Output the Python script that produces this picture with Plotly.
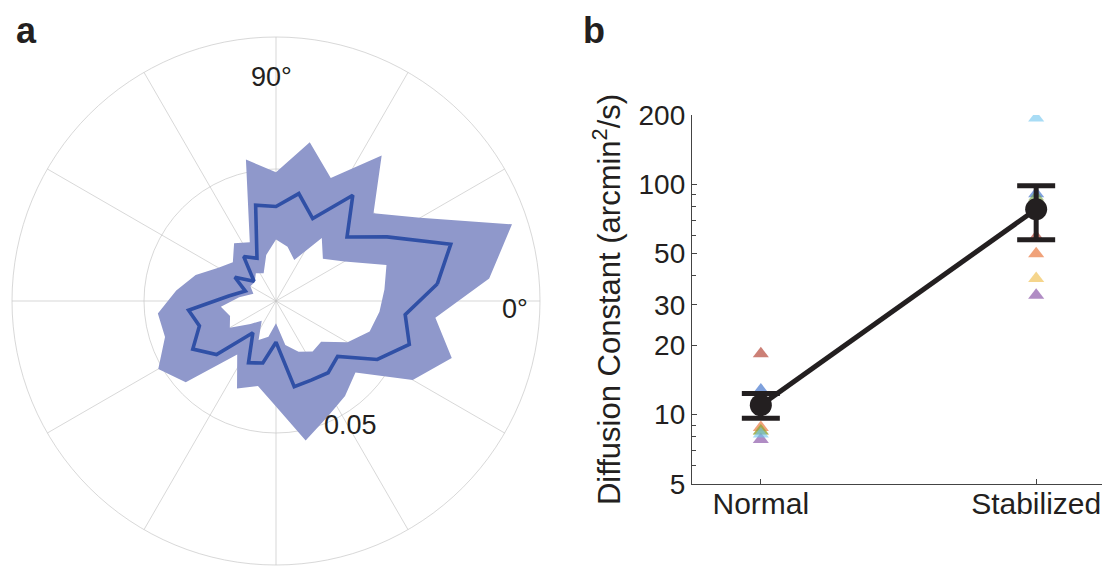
import plotly.graph_objects as go

# ---------------- Panel a: polar data (bins, radius values) ----------------
bin_angles = [6, 18, 30, 42, 54, 66, 78, 90, 102, 114, 126, 138, 150, 162, 174,
              186, 198, 210, 222, 234, 246, 258, 270, 282, 294, 306, 318, 330, 342, 354]
mean_r = [0.0614, 0.0696, 0.0486, 0.0362, 0.0495, 0.0342, 0.0416, 0.0358, 0.0371, 0.0177,
          0.0208, 0.0112, 0.0180, 0.0122, 0.0180, 0.0333, 0.0305, 0.0364, 0.0303, 0.0149,
          0.0256, 0.0240, 0.0156, 0.0332, 0.0328, 0.0336, 0.0314, 0.0443, 0.0531, 0.0492]
upper_r = [0.0812, 0.0940, 0.0630, 0.0497, 0.0681, 0.0510, 0.0615, 0.0488, 0.0548, 0.0244,
           0.0270, 0.0220, 0.0252, 0.0320, 0.0380, 0.0450, 0.0442, 0.0515, 0.0460, 0.0250,
           0.0363, 0.0329, 0.0400, 0.0540, 0.0480, 0.0445, 0.0405, 0.0598, 0.0700, 0.0607]
lower_r = [0.0413, 0.0440, 0.0300, 0.0239, 0.0295, 0.0170, 0.0210, 0.0233, 0.0178, 0.0115,
           0.0130, 0.0108, 0.0112, 0.0090, 0.0140, 0.0210, 0.0183, 0.0202, 0.0130, 0.0092,
           0.0162, 0.0138, 0.0084, 0.0170, 0.0210, 0.0236, 0.0230, 0.0313, 0.0373, 0.0394]
radial_ticks = [0.05, 0.1]

# ---------------- Panel b: diffusion constants ----------------
conditions = ["Normal", "Stabilized"]
cond_pos = [1, 2]
group_mean = [11.0, 78.0]
group_sem = [1.35, 20.5]
subject_colors = ["rgba(40,97,197,0.6)", "rgba(230,100,33,0.6)", "rgba(238,185,63,0.6)",
                  "rgba(123,63,157,0.6)", "rgba(113,160,63,0.6)", "rgba(110,197,238,0.6)",
                  "rgba(170,43,27,0.6)"]
subject_normal = [12.8, 8.8, 8.5, 7.8, 8.5, 8.25, 18.4]
subject_stabilized = [91.0, 50.0, 39.0, 33.0, 88.0, 194.0, 59.0]
y_ticks = [5, 10, 20, 30, 50, 100, 200]
y_minor = [6, 7, 8, 9, 40, 60, 70, 80, 90]

FONT = "Liberation Sans, Arial, Helvetica, sans-serif"
INK = "#231f20"
W, H = 1110, 566
OFF = 8  # page body margin in the viewer


def px_x(x):
    return (x - OFF) / W


def px_y(y):
    return 1 - (y - OFF) / H


fig = go.Figure()

# shaded band (outer loop CCW, inner loop reversed -> ring)
band_theta = bin_angles + [bin_angles[0]] + [bin_angles[0]] + bin_angles[::-1]
band_r = upper_r + [upper_r[0]] + [lower_r[0]] + lower_r[::-1]
fig.add_trace(go.Scatterpolar(
    theta=band_theta, r=band_r, mode="lines", fill="toself",
    fillcolor="rgb(143,152,203)", line=dict(width=0, color="rgba(0,0,0,0)"),
    hoverinfo="skip", showlegend=False, subplot="polar"))

# mean line on an overlaid polar so the grid sits between fill and line
fig.add_trace(go.Scatterpolar(
    theta=bin_angles + [bin_angles[0]], r=mean_r + [mean_r[0]], mode="lines",
    line=dict(color="#3050a6", width=3.6), showlegend=False, subplot="polar2"))

# ---------------- Panel b traces ----------------
for i, col in enumerate(subject_colors):
    fig.add_trace(go.Scatter(
        x=cond_pos, y=[subject_normal[i], subject_stabilized[i]], mode="markers",
        marker=dict(symbol="triangle-up", size=14, color=col, line=dict(width=0)),
        showlegend=False, xaxis="x", yaxis="y"))

fig.add_trace(go.Scatter(
    x=cond_pos, y=group_mean, mode="lines+markers",
    line=dict(color=INK, width=5), marker=dict(size=22, color=INK),
    error_y=dict(type="data", array=group_sem, color=INK, thickness=5, width=19),
    showlegend=False, xaxis="x", yaxis="y"))

grid_col = "rgba(195,195,195,0.65)"
cx, cy, R = 276, 301, 264
polar_common = dict(
    domain=dict(x=[px_x(cx - R), px_x(cx + R)], y=[px_y(cy + R), px_y(cy - R)]),
    bgcolor="rgba(0,0,0,0)")

fig.update_layout(
    width=W, height=H,
    margin=dict(l=0, r=0, t=0, b=0, autoexpand=False),
    paper_bgcolor="white", plot_bgcolor="white",
    font=dict(family=FONT, color=INK),
    polar=dict(
        **polar_common,
        radialaxis=dict(range=[0, 0.1], tickvals=radial_ticks, showticklabels=False,
                        ticks="", showline=False, gridcolor=grid_col, gridwidth=1,
                        layer="above traces"),
        angularaxis=dict(direction="counterclockwise", rotation=0, dtick=30,
                         showticklabels=False, ticks="", showline=True,
                         linecolor=grid_col, linewidth=1, gridcolor=grid_col,
                         layer="above traces")),
    polar2=dict(
        **polar_common,
        radialaxis=dict(range=[0, 0.1], visible=False),
        angularaxis=dict(direction="counterclockwise", rotation=0, visible=False)),
    xaxis=dict(domain=[px_x(692), px_x(1105)], range=[0.75, 2.25], automargin=False,
               tickvals=cond_pos, ticktext=conditions, ticks="inside", ticklen=5,
               tickcolor="#444", showline=True, linecolor="#444", linewidth=1.3,
               showgrid=False, zeroline=False, tickfont=dict(size=30, color=INK),
               ticklabelstandoff=-7, anchor="y"),
    yaxis=dict(domain=[px_y(484), px_y(115)], type="log", automargin=False,
               range=[0.69897, 2.30103], tickvals=y_ticks,
               ticktext=[str(v) for v in y_ticks], ticks="inside", ticklen=5,
               tickcolor="#444", showline=True, linecolor="#444", linewidth=1.3,
               showgrid=False, zeroline=False, tickfont=dict(size=28, color=INK),
               minor=dict(tickvals=y_minor, ticks="inside", ticklen=4, tickcolor="#444",
                          showgrid=False),
               title=dict(text="Diffusion Constant (arcmin<sup>2</sup>/s)",
                          font=dict(size=31, color=INK), standoff=8),
               anchor="x"),
    annotations=[
        dict(text="<b>a</b>", x=px_x(26), y=px_y(8), xref="paper", yref="paper",
             showarrow=False, font=dict(size=36, color=INK), xanchor="center", yanchor="top"),
        dict(text="<b>b</b>", x=px_x(594), y=px_y(8), xref="paper", yref="paper",
             showarrow=False, font=dict(size=36, color=INK), xanchor="center", yanchor="top"),
        dict(text="90°", x=px_x(271), y=px_y(77), xref="paper", yref="paper",
             showarrow=False, font=dict(size=27, color=INK), xanchor="center", yanchor="middle"),
        dict(text="0°", x=px_x(515), y=px_y(309), xref="paper", yref="paper",
             showarrow=False, font=dict(size=27, color=INK), xanchor="center", yanchor="middle"),
        dict(text="0.05", x=px_x(350), y=px_y(425), xref="paper", yref="paper",
             showarrow=False, font=dict(size=27, color=INK), xanchor="center", yanchor="middle"),
    ],
)

fig.write_html("out.html")
